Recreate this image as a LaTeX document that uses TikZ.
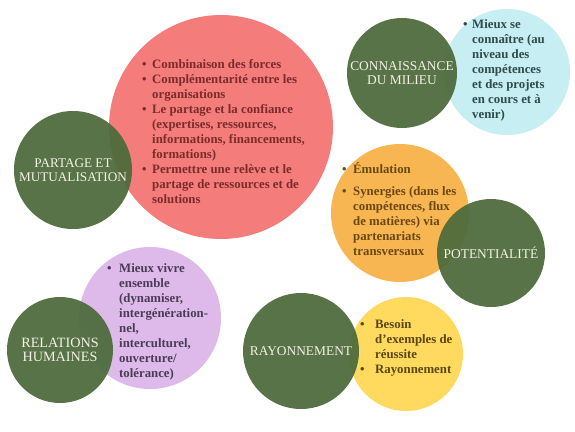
\documentclass[tikz,border=0pt]{standalone}
\usepackage{fontspec}
\setmainfont{Liberation Serif}
\definecolor{hubgreen}{HTML}{4D6B3C}
\definecolor{hubtext}{HTML}{F4F1E6}
\definecolor{salmon}{HTML}{F47C7B}
\definecolor{skyblue}{HTML}{C6EEF3}
\definecolor{amber}{HTML}{F8B652}
\definecolor{lilac}{HTML}{DDBAE9}
\definecolor{sun}{HTML}{FFDA5E}
\definecolor{salmontext}{HTML}{7A2C2A}
\definecolor{skytext}{HTML}{2F4B4A}
\definecolor{ambertext}{HTML}{6A4812}
\definecolor{lilactext}{HTML}{4B3B56}
\definecolor{suntext}{HTML}{5A4610}
\begin{document}
\begin{tikzpicture}[x=1pt,y=-1pt,
  blob/.style={circle, inner sep=0pt, draw=none},
  hub/.style={circle, inner sep=0pt, draw=none, fill=hubgreen, fill opacity=0.94,
    text opacity=1, text=hubtext, align=center,
    font=\fontsize{13.4}{14}\selectfont},
  bullets/.style={anchor=base west, inner sep=0pt,
    font=\bfseries\fontsize{12.8}{15}\selectfont}]
\useasboundingbox[fill=white] (0,0) rectangle (575,431);

% coloured discs holding the bullet lists
\node[blob, fill=salmon, minimum size=224pt] (redblob) at (221,127) {};
\node[blob, fill=skyblue, minimum size=126pt] (blueblob) at (507,72) {};
\node[blob, fill=amber, minimum size=138pt] (orangeblob) at (400,213) {};
\node[blob, fill=lilac, minimum size=142pt] (purpleblob) at (150,318) {};
\node[blob, fill=sun, minimum size=114pt] (yellowblob) at (406,354) {};

% green theme discs
\node[hub, minimum size=118pt, font=\fontsize{13.2}{14}\selectfont] (partage) at (73,170) {PARTAGE ET\\MUTUALISATION};
\node[hub, minimum size=110pt] (milieu) at (402,73) {CONNAISSANCE\\DU MILIEU};
\node[hub, minimum size=108pt] (potentiel) at (491,253) {POTENTIALITÉ};
\node[hub, minimum size=106pt, font=\fontsize{14.2}{14.5}\selectfont] (relations) at (60,350) {RELATIONS\\HUMAINES};
\node[hub, minimum size=116pt] (rayon) at (301,351) {RAYONNEMENT};

% bullet lists
\node[bullets, text=salmontext] (redlist) at (142,68) {%
  \begin{tabular}[t]{@{}p{10pt}@{}l@{}}
  • & Combinaison des forces\\
  • & Complémentarité entre les\\
    & organisations\\
  • & Le partage et la confiance\\
    & (expertises, ressources,\\
    & informations, financements,\\
    & formations)\\
  • & Permettre une relève et le\\
    & partage de ressources et de\\
    & solutions
  \end{tabular}};

\node[bullets, text=skytext] (bluelist) at (463,28) {%
  \begin{tabular}[t]{@{}p{9pt}@{}l@{}}
  • & Mieux se\\
    & connaître (au\\
    & niveau des\\
    & compétences\\
    & et des projets\\
    & en cours et à\\
    & venir)
  \end{tabular}};

\node[bullets, text=ambertext] (orangelist) at (342,173) {%
  \begin{tabular}[t]{@{}p{11pt}@{}l@{}}
  • & Émulation\\[7pt]
  • & Synergies (dans les\\
    & compétences, flux\\
    & de matières) via\\
    & partenariats\\
    & transversaux
  \end{tabular}};

\node[bullets, text=lilactext] (purplelist) at (107,272) {%
  \begin{tabular}[t]{@{}p{12pt}@{}l@{}}
  • & Mieux vivre\\
    & ensemble\\
    & (dynamiser,\\
    & intergénération-\\
    & nel,\\
    & interculturel,\\
    & ouverture/\\
    & tolérance)
  \end{tabular}};

\node[bullets, text=suntext] (yellowlist) at (360,328) {%
  \begin{tabular}[t]{@{}p{15pt}@{}l@{}}
  • & Besoin\\
    & d'exemples de\\
    & réussite\\
  • & Rayonnement
  \end{tabular}};
\end{tikzpicture}
\end{document}
